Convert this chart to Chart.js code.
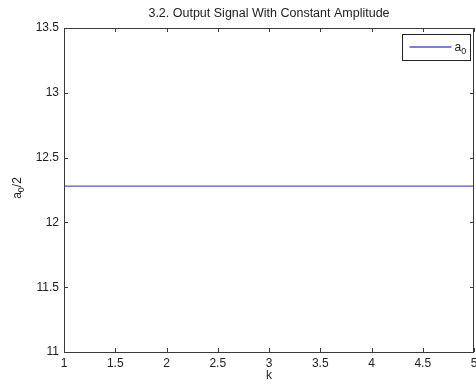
<!DOCTYPE html>
<html>
<head>
<meta charset="utf-8">
<script src="https://cdn.jsdelivr.net/npm/chart.js@4/dist/chart.umd.min.js"></script>
<style>
  html, body { margin: 0; padding: 0; background: #fff; }
  #wrap { width: 476px; height: 385px; }
</style>
</head>
<body>
<div id="wrap"><canvas id="myChart"></canvas></div>
<script>
// values
const kValues = [1, 2, 3, 4, 5];
const a0Half = [12.28, 12.28, 12.28, 12.28, 12.28];
const xTicks = [1, 1.5, 2, 2.5, 3, 3.5, 4, 4.5, 5];
const yTicks = [11, 11.5, 12, 12.5, 13, 13.5];
const chartTitle = '3.2. Output Signal With Constant Amplitude';

const FONT = 'Liberation Sans, Arial, sans-serif';
const lineColor = 'rgb(85, 85, 205)';
const axisColor = '#3a3a3a';

// draw "a" with a subscript "0" and optional trailing text
function drawSubA(c, x, y, tail) {
    c.font = '12px ' + FONT;
    c.textBaseline = 'alphabetic';
    c.textAlign = 'left';
    c.fillText('a', x, y);
    let w = c.measureText('a').width;
    c.font = '9px ' + FONT;
    c.fillText('0', x + w, y + 3);
    w += c.measureText('0').width;
    if (tail) {
        c.font = '12px ' + FONT;
        c.fillText(tail, x + w, y);
        w += c.measureText(tail).width;
    }
    return w;
}

// box, inward ticks, title, y label and legend
const matlabAxes = {
    id: 'matlabAxes',
    afterDatasetsDraw(chart) {
        const c = chart.ctx;
        const a = chart.chartArea;
        const xs = chart.scales.x, ys = chart.scales.y;
        const tl = 4;
        c.save();
        c.strokeStyle = axisColor;
        c.lineWidth = 1;
        c.strokeRect(Math.round(a.left) + 0.5, Math.round(a.top) + 0.5,
                     Math.round(a.right - a.left) - 1, Math.round(a.bottom - a.top));
        c.beginPath();
        xTicks.forEach(v => {
            const px = Math.round(xs.getPixelForValue(v)) + 0.5;
            c.moveTo(px, a.bottom); c.lineTo(px, a.bottom - tl);
            c.moveTo(px, a.top); c.lineTo(px, a.top + tl);
        });
        yTicks.forEach(v => {
            const py = Math.round(ys.getPixelForValue(v)) + 0.5;
            c.moveTo(a.left, py); c.lineTo(a.left + tl, py);
            c.moveTo(a.right, py); c.lineTo(a.right - tl, py);
        });
        c.stroke();

        // title over the plot box
        c.fillStyle = '#222';
        c.font = '12.5px ' + FONT;
        c.textAlign = 'center';
        c.textBaseline = 'middle';
        c.fillText(chartTitle, (a.left + a.right) / 2, 14);

        // y axis label a0/2
        c.save();
        c.translate(21, (a.top + a.bottom) / 2);
        c.rotate(-Math.PI / 2);
        c.font = '12px ' + FONT;
        const w = c.measureText('a').width + 7 + c.measureText('/2').width;
        drawSubA(c, -w / 2 + 3, 0, '/2');
        c.restore();

        // legend
        const bx = Math.round(a.right) - 71.5, by = Math.round(a.top) + 6.5;
        c.fillStyle = '#fff';
        c.fillRect(bx, by, 68, 26);
        c.strokeStyle = '#222';
        c.strokeRect(bx, by, 68, 26);
        c.strokeStyle = lineColor;
        c.lineWidth = 1.3;
        c.beginPath();
        c.moveTo(bx + 7, by + 12.5);
        c.lineTo(bx + 49, by + 12.5);
        c.stroke();
        c.fillStyle = '#222';
        drawSubA(c, bx + 52, by + 16);
        c.restore();
    }
};

new Chart(document.getElementById('myChart'), {
    type: 'line',
    data: {
        datasets: [{
            label: 'a0',
            data: kValues.map((k, i) => ({ x: k, y: a0Half[i] })),
            borderColor: lineColor,
            borderWidth: 1.3,
            pointRadius: 0,
            fill: false
        }]
    },
    options: {
        responsive: true,
        maintainAspectRatio: false,
        animation: false,
        layout: { padding: { left: 0, right: 2, top: 28, bottom: 0 } },
        plugins: {
            legend: { display: false },
            tooltip: { enabled: false },
            title: { display: false }
        },
        scales: {
            x: {
                type: 'linear',
                min: 1, max: 5,
                afterBuildTicks: s => { s.ticks = xTicks.map(v => ({ value: v })); },
                afterFit: s => { s.height = 33; s.paddingLeft = 0; s.paddingRight = 0; },
                grid: { display: false, drawTicks: false },
                border: { display: false },
                ticks: {
                    color: '#222', padding: 4, maxRotation: 0,
                    font: { family: FONT, size: 12 },
                    callback: v => String(v)
                },
                title: {
                    display: true, text: 'k', color: '#222',
                    font: { family: FONT, size: 12 },
                    padding: { top: 0, bottom: 2 }
                }
            },
            y: {
                min: 11, max: 13.5,
                afterBuildTicks: s => { s.ticks = yTicks.map(v => ({ value: v })); },
                afterFit: s => { s.width = 64; s.paddingTop = 0; s.paddingBottom = 0; },
                grid: { display: false, drawTicks: false },
                border: { display: false },
                ticks: {
                    color: '#222', padding: 5,
                    font: { family: FONT, size: 12 },
                    callback: v => String(v)
                }
            }
        }
    },
    plugins: [matlabAxes]
});
</script>
</body>
</html>
